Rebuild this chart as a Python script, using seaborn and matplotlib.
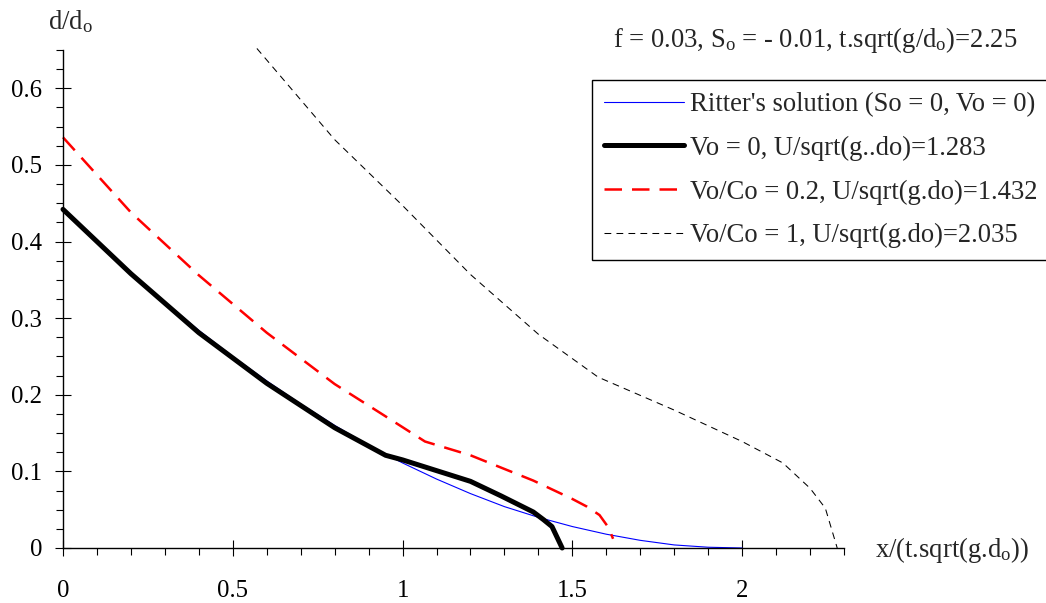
import matplotlib
matplotlib.use("Agg")
import matplotlib.pyplot as plt
import seaborn as sns
import pandas as pd
from matplotlib.ticker import MultipleLocator, FuncFormatter

# ---- data ----
ritter_x = [0.0, 0.1, 0.2, 0.3, 0.4, 0.5, 0.6, 0.7, 0.8, 0.9, 1.0,
            1.1, 1.2, 1.3, 1.4, 1.5, 1.6, 1.7, 1.8, 1.9, 2.0]
ritter_y = [0.444, 0.401, 0.360, 0.321, 0.284, 0.250, 0.218, 0.188, 0.160, 0.134, 0.111,
            0.090, 0.071, 0.054, 0.040, 0.028, 0.018, 0.010, 0.004, 0.001, 0.0]

vo0_x = [0.0, 0.2, 0.4, 0.6, 0.8, 0.95, 1.0, 1.1, 1.2, 1.29, 1.385, 1.415, 1.44, 1.47]
vo0_y = [0.442, 0.358, 0.281, 0.215, 0.157, 0.121, 0.115, 0.101, 0.087, 0.068, 0.047, 0.037, 0.028, 0.0]

vo02_x = [0.0, 0.2, 0.4, 0.6, 0.8, 0.96, 1.066, 1.2, 1.385, 1.50, 1.543, 1.58, 1.606, 1.62]
vo02_y = [0.536, 0.438, 0.356, 0.281, 0.214, 0.169, 0.139, 0.121, 0.088, 0.064, 0.054, 0.043, 0.027, 0.012]

vo1_x = [0.571, 0.8, 1.0, 1.2, 1.4, 1.576, 1.8, 2.0, 2.12, 2.2, 2.245, 2.28]
vo1_y = [0.652, 0.533, 0.447, 0.357, 0.279, 0.223, 0.180, 0.139, 0.111, 0.078, 0.052, 0.0]

labels = ["Ritter's solution (So = 0, Vo = 0)",
          "Vo = 0, U/sqrt(g..do)=1.283",
          "Vo/Co = 0.2, U/sqrt(g.do)=1.432",
          "Vo/Co = 1, U/sqrt(g.do)=2.035"]

x_major = [0, 0.5, 1, 1.5, 2]
y_major = [0, 0.1, 0.2, 0.3, 0.4, 0.5, 0.6]

# ---- style ----
sns.set_style("ticks")
plt.rcParams['font.family'] = ['Liberation Serif', 'DejaVu Serif']
plt.rcParams['mathtext.fontset'] = 'custom'
plt.rcParams['mathtext.rm'] = 'Liberation Serif'
plt.rcParams['mathtext.it'] = 'Liberation Serif:italic'
FS_TICK = 17.8
FS_TXT = 19.2

W, H = 1046, 603
fig = plt.figure(figsize=(W / 100, H / 100), dpi=100)
ax = fig.add_axes([63 / W, 1 - 548 / H, (844 - 63) / W, (548 - 50) / H])

series = [
    (ritter_x, ritter_y, dict(color=(0, 0, 1), lw=0.8, linestyle='-')),
    (vo0_x, vo0_y, dict(color='black', lw=3.6, linestyle='-')),
    (vo02_x, vo02_y, dict(color=(1, 0, 0), lw=1.8, linestyle=(0, (7.0, 4.0)))),
    (vo1_x, vo1_y, dict(color='black', lw=0.75, linestyle=(0, (6.5, 5.0)))),
]
for (xs, ys, kw), lab in zip(series, labels):
    df = pd.DataFrame({"x": xs, "y": ys})
    sns.lineplot(data=df, x="x", y="y", ax=ax, sort=False, estimator=None,
                 label=lab, clip_on=False, solid_joinstyle='round', **kw)

ax.set_xlim(0, 2.3)
ax.set_ylim(0, 0.65)
ax.set_xlabel("")
ax.set_ylabel("")
for s in ("top", "right"):
    ax.spines[s].set_visible(False)
for s in ("left", "bottom"):
    ax.spines[s].set_linewidth(1.0)
    ax.spines[s].set_color('black')

ax.set_xticks(x_major)
ax.set_yticks(y_major)
ax.xaxis.set_minor_locator(MultipleLocator(0.1))
ax.yaxis.set_minor_locator(MultipleLocator(0.025))
fmt = FuncFormatter(lambda v, p: "%g" % round(v, 3))
ax.xaxis.set_major_formatter(fmt)
ax.yaxis.set_major_formatter(fmt)
ax.tick_params(axis='both', which='major', direction='inout', length=12.2, width=0.8,
               labelsize=FS_TICK, colors='black')
ax.tick_params(axis='both', which='minor', direction='out', length=5, width=0.8, colors='black')
ax.tick_params(axis='x', which='major', pad=17)
ax.tick_params(axis='y', which='major', pad=9)

# legend
leg = ax.legend(loc='upper left', bbox_to_anchor=(592 / W, 1 - 80 / H),
                bbox_transform=fig.transFigure, borderaxespad=0, frameon=True,
                fancybox=False, edgecolor='black', fontsize=FS_TXT, handlelength=3.0,
                handletextpad=0.22, labelspacing=0.70, borderpad=0.45)
leg.get_frame().set_linewidth(1.0)
leg.get_frame().set_alpha(1)

# texts
fig.text(815 / W, 1 - 40 / H, r"f = 0.03, S$_\mathrm{o}$ = - 0.01, t.sqrt(g/d$_\mathrm{o}$)=2.25",
         ha='center', va='center', fontsize=FS_TXT)
fig.text(48 / W, 1 - 22 / H, r"d/d$_\mathrm{o}$", ha='left', va='center', fontsize=FS_TXT)
fig.text(875 / W, 1 - 550 / H, r"x/(t.sqrt(g.d$_\mathrm{o}$))", ha='left', va='center', fontsize=FS_TXT)

fig.savefig("out.png", dpi=100)
